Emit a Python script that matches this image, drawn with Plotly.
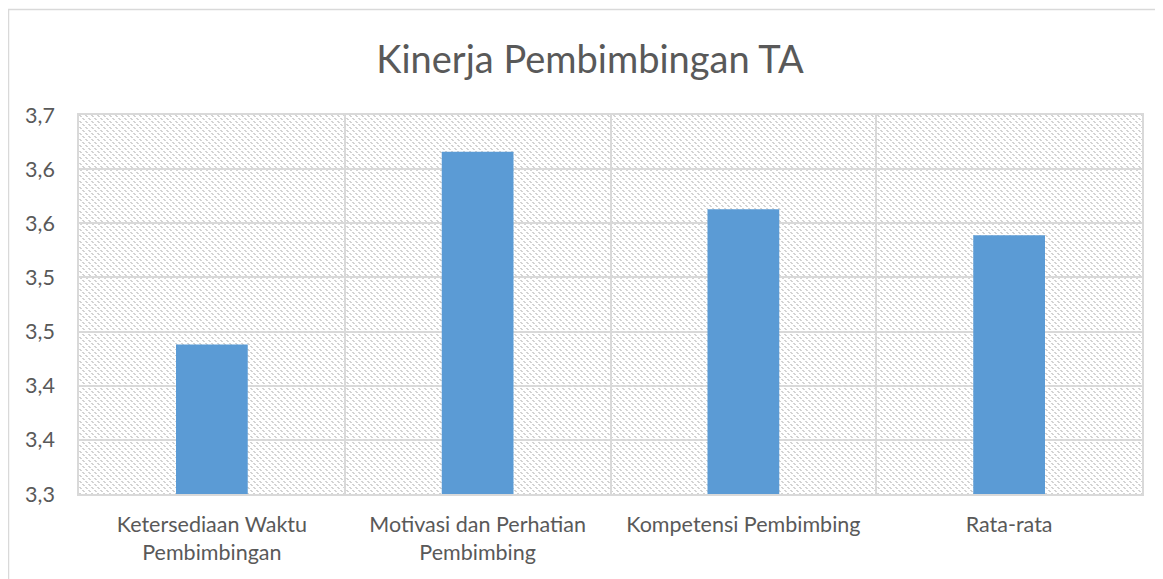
import base64
import plotly.graph_objects as go

# data
categories = ["Ketersediaan Waktu<br>Pembimbingan", "Motivasi dan Perhatian<br>Pembimbing",
              "Kompetensi Pembimbing", "Rata-rata"]
scores = [3.438, 3.616, 3.563, 3.539]
y_ticks = [3.30, 3.35, 3.40, 3.45, 3.50, 3.55, 3.60, 3.65]
y_labels = ["3,3", "3,4", "3,4", "3,5", "3,5", "3,6", "3,6", "3,7"]

# page body has an 8px margin, so the figure is drawn 8px in and 8px down
W, H = 1155, 571
L, R, T, B = 71, 21, 107, 85
pw, ph = W - L - R, H - T - B

# hatched plot-area background (Excel style pattern fill)
c = "#d3d3d3"
blocks = [(0, 0), (1, 1), (3, 3), (4, 4)]
rects = "".join(f'<rect x="{x}" y="{y}" width="2" height="1" fill="{c}"/>' for x, y in blocks)
svg = (
    f'<svg xmlns="http://www.w3.org/2000/svg" width="{pw}" height="{ph}" viewBox="0 0 {pw} {ph}" shape-rendering="crispEdges">'
    f'<defs><pattern id="p" width="6" height="6" patternUnits="userSpaceOnUse">{rects}</pattern></defs>'
    f'<rect width="{pw}" height="{ph}" fill="url(#p)"/></svg>'
)
src = "data:image/svg+xml;base64," + base64.b64encode(svg.encode()).decode()

fig = go.Figure(go.Bar(
    x=categories, y=scores,
    marker=dict(color="#5b9bd5", line=dict(width=0)),
    width=0.27,
))

fig.add_layout_image(dict(source=src, xref="paper", yref="paper", x=0, y=1,
                          sizex=1, sizey=1, sizing="stretch", xanchor="left",
                          yanchor="top", layer="below"))

# outer chart border
fig.add_shape(type="rect", xref="paper", yref="paper",
              x0=(0.5 - L) / pw, x1=(W + 5 - L) / pw,
              y0=-(B + 5) / ph, y1=(H - 1.5 - B) / ph,
              line=dict(color="#d9d9d9", width=1.5), fillcolor="rgba(0,0,0,0)", layer="below")

fig.update_layout(
    width=W, height=H,
    margin=dict(l=L, r=R, t=T, b=B),
    paper_bgcolor="white", plot_bgcolor="white",
    font=dict(family="Lato", color="#595959", size=21.5),
    title=dict(text="Kinerja Pembimbingan TA", x=(590 - 8) / W, xanchor="center",
               y=1 - 52 / H, yanchor="middle",
               font=dict(size=38, color="#595959", family="Lato")),
    showlegend=False,
)
fig.update_xaxes(tickson="boundaries", showgrid=True, gridcolor="#d9d9d9", gridwidth=1.5,
                 showline=True, linecolor="#d9d9d9", linewidth=1.5, mirror=True,
                 ticks="", ticklabelstandoff=10)
fig.update_yaxes(range=[3.30, 3.65], tickvals=y_ticks, ticktext=y_labels,
                 showgrid=True, gridcolor="#d9d9d9", gridwidth=1.5,
                 showline=True, linecolor="#d9d9d9", linewidth=1.5, mirror=True,
                 ticks="", ticklabelstandoff=18, zeroline=False)

fig.write_html("out.html")
